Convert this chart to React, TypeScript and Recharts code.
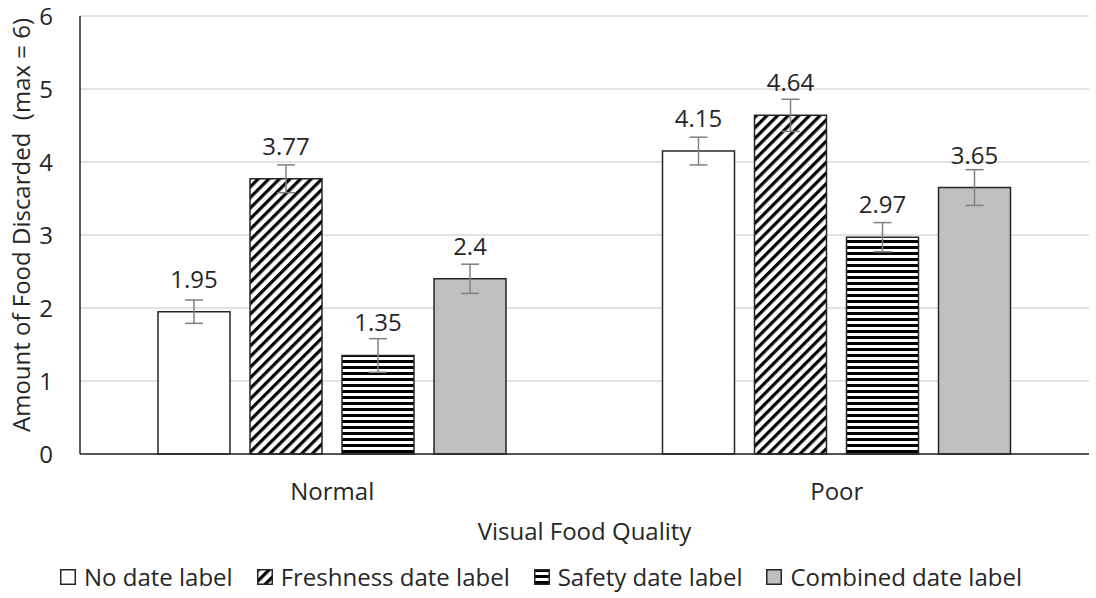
import React from 'react';
import { BarChart, Bar, XAxis, YAxis, CartesianGrid, ErrorBar, LabelList, Legend } from 'recharts';

const categories = ['Normal', 'Poor'];
const noDate = [1.95, 4.15];
const freshness = [3.77, 4.64];
const safety = [1.35, 2.97];
const combined = [2.4, 3.65];
const noDateErr = [0.16, 0.19];
const freshnessErr = [0.19, 0.22];
const safetyErr = [0.23, 0.2];
const combinedErr = [0.2, 0.245];
const yTicks = [0, 1, 2, 3, 4, 5, 6];

const seriesNames = ['No date label', 'Freshness date label', 'Safety date label', 'Combined date label'];

const data = categories.map((c, i) => ({
  category: c,
  noDate: noDate[i],
  freshness: freshness[i],
  safety: safety[i],
  combined: combined[i],
  noDateErr: noDateErr[i],
  freshnessErr: freshnessErr[i],
  safetyErr: safetyErr[i],
  combinedErr: combinedErr[i],
}));

const FONT = "'Open Sans', sans-serif";
const FS = 24;
const TEXT = '#262626';
const EDGE = '#262626';

const fills = ['#ffffff', 'url(#hatchDiag)', 'url(#hatchHoriz)', '#bfbfbf'];

const YLabel = (props: any) => {
  const vb = props.viewBox || {};
  const cx = vb.x + 20;
  const cy = vb.y + vb.height / 2 - 10;
  return (
    <text
      x={cx}
      y={cy}
      transform={`rotate(-90, ${cx}, ${cy})`}
      textAnchor="middle"
      dominantBaseline="central"
      fontFamily={FONT}
      fontSize={FS}
      fill={TEXT}
      style={{ whiteSpace: 'pre' }}
    >
      {'Amount of Food Discarded  (max = 6)'}
    </text>
  );
};

const LegendContent = () => (
  <div
    style={{
      display: 'flex',
      justifyContent: 'center',
      alignItems: 'center',
      height: 30,
      fontFamily: FONT,
      fontSize: FS,
      color: TEXT,
      lineHeight: '30px',
      paddingRight: 14,
    }}
  >
    {seriesNames.map((n, i) => (
      <div key={n} style={{ display: 'flex', alignItems: 'center', marginLeft: i === 0 ? 0 : 24 }}>
        <svg width={16} height={16} style={{ marginRight: 8, display: 'block' }}>
          <rect x={0.75} y={0.75} width={14.5} height={14.5} fill={fills[i]} stroke={EDGE} strokeWidth={1.5} />
        </svg>
        <span>{n}</span>
      </div>
    ))}
  </div>
);

export default function App() {
  const keys = ['noDate', 'freshness', 'safety', 'combined'];
  return (
    <div style={{ position: 'absolute', left: 0, top: 0, width: 1096, height: 598, background: '#fff' }}>
      <BarChart
        width={1096}
        height={598}
        data={data}
        margin={{ top: 16, right: 7, left: 0, bottom: 5 }}
        barGap={20}
      >
        <defs>
          <pattern id="hatchDiag" patternUnits="userSpaceOnUse" width={7.5} height={7.5} patternTransform="rotate(45)">
            <rect x={0} y={0} width={7.5} height={7.5} fill="#ffffff" />
            <rect x={0} y={0} width={3.2} height={7.5} fill="#000000" />
          </pattern>
          <pattern id="hatchHoriz" patternUnits="userSpaceOnUse" width={6} height={6}>
            <rect x={0} y={0} width={6} height={6} fill="#ffffff" />
            <rect x={0} y={0} width={6} height={3} fill="#000000" />
          </pattern>
        </defs>
        <CartesianGrid vertical={false} stroke="#d9d9d9" strokeWidth={1.5} />
        <XAxis
          dataKey="category"
          tickLine={false}
          tickSize={0}
          tickMargin={29}
          height={109}
          axisLine={{ stroke: EDGE, strokeWidth: 1.5 }}
          tick={{ fontSize: FS, fill: TEXT, fontFamily: FONT }}
          label={{ value: 'Visual Food Quality', position: 'insideBottom', offset: 23, fontSize: FS, fill: TEXT, fontFamily: FONT }}
        />
        <YAxis
          width={80}
          domain={[0, 6]}
          ticks={yTicks}
          interval={0}
          tickLine={false}
          tickSize={0}
          tickMargin={27}
          axisLine={{ stroke: EDGE, strokeWidth: 1.5 }}
          tick={{ fontSize: FS, fill: TEXT, fontFamily: FONT }}
          label={<YLabel />}
        />
        <Legend
          verticalAlign="bottom"
          content={<LegendContent />}
          wrapperStyle={{ top: 562, left: 0, width: 1096, bottom: 'auto', height: 30 }}
        />
        {keys.map((k, i) => (
          <Bar
            key={k}
            dataKey={k}
            name={seriesNames[i]}
            fill={fills[i]}
            stroke={EDGE}
            strokeWidth={1.5}
            barSize={72}
            isAnimationActive={false}
          >
            <ErrorBar dataKey={`${k}Err`} width={9} stroke="#808080" strokeWidth={1.5} direction="y" />
            <LabelList dataKey={k} position="top" offset={24} fill={TEXT} fontSize={FS} fontFamily={FONT} />
          </Bar>
        ))}
      </BarChart>
    </div>
  );
}
